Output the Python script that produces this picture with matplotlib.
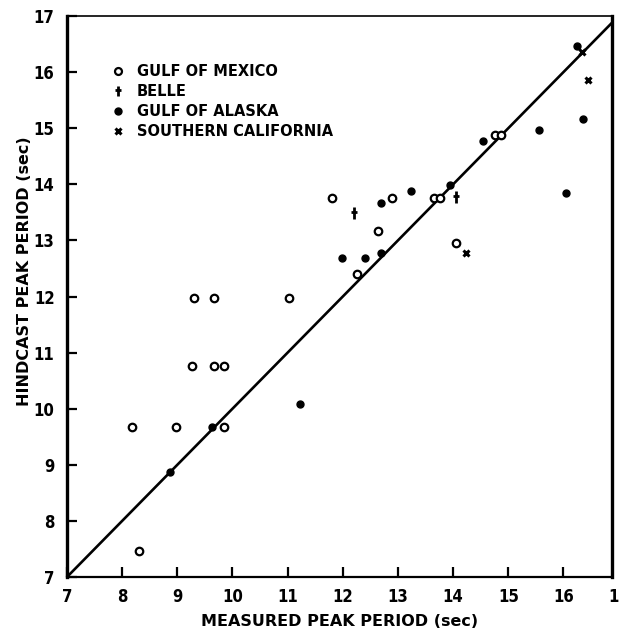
import matplotlib
matplotlib.use("Agg")
import matplotlib.pyplot as plt
from matplotlib.lines import Line2D
from matplotlib.path import Path

# ---- data (measured peak period, hindcast peak period) ----
gom_x = [8.17, 8.98, 9.85, 9.27, 9.66, 9.85, 9.30, 9.66, 8.30, 11.03, 11.80, 12.25,
         12.63, 12.90, 13.65, 13.76, 14.06, 14.76, 14.87]
gom_y = [9.68, 9.67, 9.67, 10.77, 10.77, 10.77, 11.97, 11.97, 7.46, 11.98, 13.76, 12.40,
         13.17, 13.76, 13.76, 13.76, 12.95, 14.87, 14.87]

belle_x = [12.20, 14.05]
belle_y = [13.48, 13.78]

goa_x = [8.86, 9.63, 11.22, 11.99, 12.40, 12.69, 12.70, 13.23, 13.94, 14.54, 15.56,
         16.05, 16.36, 16.24]
goa_y = [8.87, 9.67, 10.08, 12.68, 12.68, 12.77, 13.66, 13.88, 13.98, 14.77, 14.97,
         13.85, 15.16, 16.47]

socal_x = [14.23, 16.45, 16.33]
socal_y = [12.77, 15.86, 16.35]

xticks = [7, 8, 9, 10, 11, 12, 13, 14, 15, 16]
yticks = [7, 8, 9, 10, 11, 12, 13, 14, 15, 16, 17]
extra_xtick = 17
series_labels = ["GULF OF MEXICO", "BELLE", "GULF OF ALASKA", "SOUTHERN CALIFORNIA"]
xlabel = "MEASURED PEAK PERIOD (sec)"
ylabel = "HINDCAST PEAK PERIOD (sec)"

W, H = 619, 632
fig = plt.figure(figsize=(W / 100, H / 100), dpi=100)
ax = fig.add_axes([67 / W, 1 - 577 / H, (612 - 67) / W, (577 - 16) / H])

ax.set_xlim(7, 16.88)
ax.set_ylim(7, 17)

# line of perfect agreement
ax.plot([7, 17], [7, 17], color="black", lw=1.9, zorder=2)

belle_marker = Path([(0, -1), (0, 1), (-0.55, 0.15), (0.55, 0.15)],
                    [Path.MOVETO, Path.LINETO, Path.MOVETO, Path.LINETO])

ax.plot(gom_x, gom_y, linestyle="none", marker="o", markersize=5.4,
        markerfacecolor="white", markeredgecolor="black", markeredgewidth=1.6, zorder=3)
ax.plot(belle_x, belle_y, linestyle="none", marker=belle_marker, markersize=8,
        markeredgecolor="black", markeredgewidth=2.0, zorder=3)
ax.plot(goa_x, goa_y, linestyle="none", marker="o", markersize=5.0,
        markerfacecolor="black", markeredgecolor="black", zorder=3)
ax.plot(socal_x, socal_y, linestyle="none", marker="x", markersize=4.5,
        markeredgecolor="black", markeredgewidth=2.2, zorder=3)

tick_kw = dict(family=["Liberation Sans Narrow", "DejaVu Sans"], fontweight="bold",
               fontsize=12, fontstretch="condensed")
ax.set_xticks(xticks)
ax.set_yticks(yticks)
ax.set_xticklabels([str(t) for t in xticks], **tick_kw)
ax.set_yticklabels([str(t) for t in yticks], **tick_kw)
ax.tick_params(axis="both", direction="in", length=7, width=1.6, colors="black")
ax.tick_params(axis="x", pad=8)
ax.tick_params(axis="y", pad=9)

# tick label of 17 sits just beyond the right frame
ax.annotate(str(extra_xtick), xy=(extra_xtick, 0), xycoords=("data", "axes fraction"),
            xytext=(0, -8), textcoords="offset points", ha="center", va="top",
            annotation_clip=False, **tick_kw)

for side, lw in {"left": 2.4, "right": 2.4, "bottom": 1.6, "top": 1.2}.items():
    ax.spines[side].set_linewidth(lw)
    ax.spines[side].set_color("black")

ax.set_xlabel(xlabel, fontsize=11.5, fontweight="bold", labelpad=6)
ax.set_ylabel(ylabel, fontsize=11.5, fontweight="bold")
ax.yaxis.set_label_coords(-0.065, 0.545)

handles = [
    Line2D([], [], linestyle="none", marker="o", markersize=5.0, markerfacecolor="white",
           markeredgecolor="black", markeredgewidth=1.6),
    Line2D([], [], linestyle="none", marker=belle_marker, markersize=7,
           markeredgecolor="black", markeredgewidth=2.0),
    Line2D([], [], linestyle="none", marker="o", markersize=5, markerfacecolor="black",
           markeredgecolor="black"),
    Line2D([], [], linestyle="none", marker="x", markersize=4.5, markeredgecolor="black",
           markeredgewidth=2.2),
]
leg = ax.legend(handles, series_labels, loc="upper left",
                bbox_to_anchor=(110.7 / W, 1 - 64 / H), bbox_transform=fig.transFigure,
                frameon=False, borderaxespad=0, borderpad=0, handlelength=1.0,
                handletextpad=0.8, labelspacing=0.35,
                prop={"weight": "bold", "size": 10.5})

fig.savefig("out.png", dpi=100, facecolor="white")
